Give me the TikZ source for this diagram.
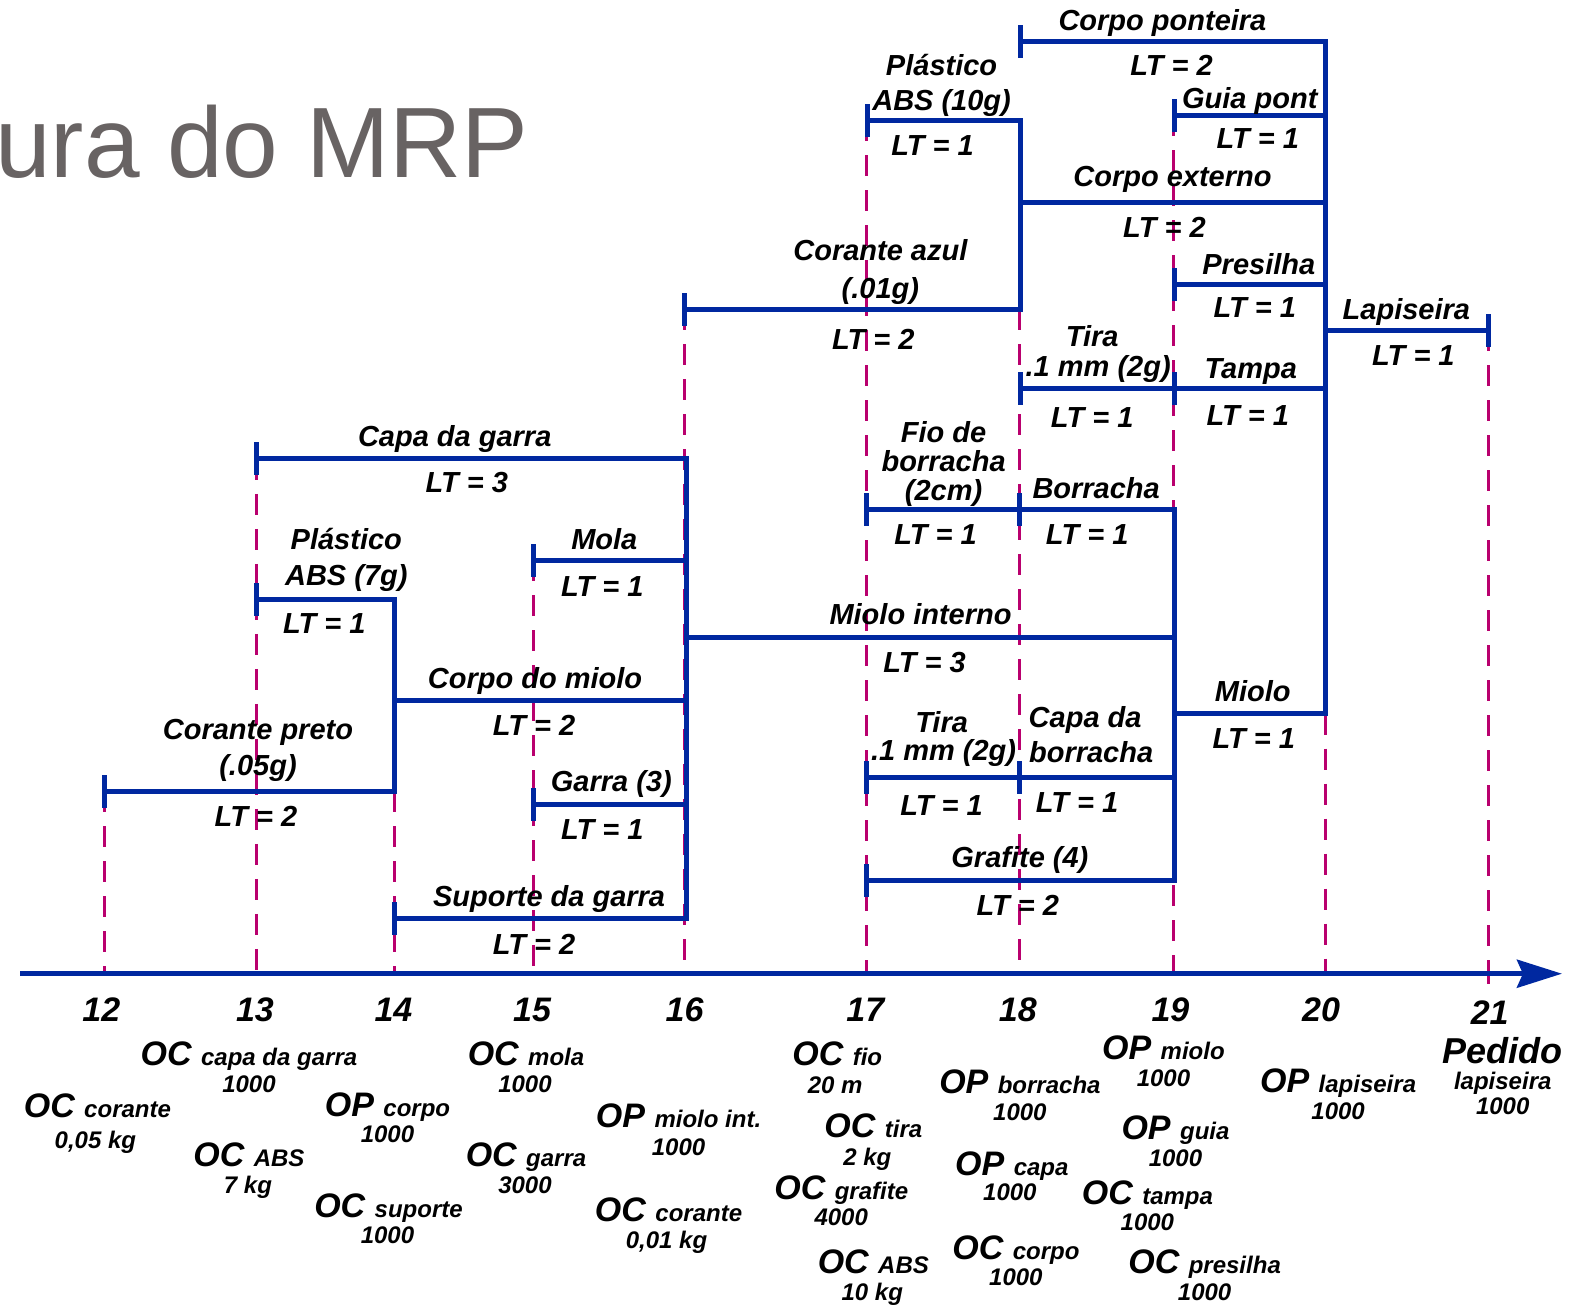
\documentclass[tikz,border=0pt]{standalone}
\usepackage{fontspec}
\setmainfont{Liberation Sans}
\usetikzlibrary{arrows.meta}

\definecolor{barblue}{RGB}{0,40,160}
\definecolor{guide}{RGB}{185,0,110}
\definecolor{titlegray}{RGB}{104,99,99}

% vertical tick at the free end of a bar
\newcommand\bartick[1]{\draw[bar] ([yshift=14pt]#1) -- ([yshift=-14pt]#1);}

\begin{document}
\begin{tikzpicture}[x=1.0038pt,y=-1.0038pt,
  bar/.style={draw=barblue,line width=5pt,line cap=rect},
  guideline/.style={draw=guide,line width=3pt,dash pattern=on 21pt off 14pt},
  lbl/.style={font=\fontsize{29}{30}\selectfont\bfseries\itshape,anchor=base,inner sep=0pt},
  tnum/.style={font=\fontsize{34}{34}\selectfont\bfseries\itshape,anchor=base,inner sep=0pt},
  ord/.style={font=\fontsize{34}{34}\selectfont\bfseries\itshape,anchor=base,inner sep=0pt},
  qty/.style={font=\fontsize{24}{24}\selectfont\bfseries\itshape,anchor=base,inner sep=0pt}]
\newcommand\sm[1]{{\fontsize{24}{24}\selectfont #1}}

\useasboundingbox (0,0) rectangle (1568,1300);

% heading
\node[anchor=base west,inner sep=0pt,text=titlegray,font=\fontsize{100}{100}\selectfont] (title) at (-5,177) {ura do MRP};

% ---------- time axis ----------
\coordinate (axL) at (20,970);
\coordinate (axR) at (1556,970);

% period guide lines
\foreach \n/\x/\y in {12/104/788, 13/256/457, 14/393/788, 15/531/558, 16/682/308,
                      17/863/120, 18/1016/308, 19/1169/115, 20/1320/711, 21/1483/329}{
  \coordinate (g\n-top) at (\x,\y);
  \coordinate (g\n-bot) at (\x,970);
  \draw[guideline] (g\n-top) -- (g\n-bot);
}
\draw[guideline] (g21-bot) -- ++(0,10);

\draw[barblue,line width=5pt,-{Stealth[length=45pt,width=28pt,inset=6pt]}] (axL) -- (axR);

% period numbers
\foreach \n/\x in {12/101, 13/254, 14/392, 15/530, 16/682, 17/862, 18/1014, 19/1166, 20/1316}{
  \node[tnum] (p\n) at (\x,1018) {\n};
}
\node[tnum] (p21) at (1484,1021) {21};

% ---------- bar end points ----------
% left branch
\coordinate (cp-s) at (104,788);  \coordinate (cp-e) at (393,788);
\coordinate (pa7-s) at (256,597); \coordinate (pa7-e) at (393,597);
\coordinate (cm-s) at (393,698);  \coordinate (cm-e) at (684,698);
\coordinate (cg-s) at (256,457);  \coordinate (cg-e) at (684,457);
\coordinate (mo-s) at (531,558);  \coordinate (mo-e) at (684,558);
\coordinate (ga-s) at (531,801);  \coordinate (ga-e) at (684,801);
\coordinate (sg-s) at (393,915);  \coordinate (sg-e) at (684,915);
\coordinate (mi-s) at (684,635);  \coordinate (mi-e) at (1170,635);
% middle branch
\coordinate (fb-s) at (863,508);  \coordinate (fb-e) at (1016,508);
\coordinate (bo-s) at (1016,508); \coordinate (bo-e) at (1170,508);
\coordinate (tl-s) at (863,775);  \coordinate (tl-e) at (1016,775);
\coordinate (cb-s) at (1016,775); \coordinate (cb-e) at (1170,775);
\coordinate (gr-s) at (863,877);  \coordinate (gr-e) at (1170,877);
\coordinate (ml-s) at (1170,711); \coordinate (ml-e) at (1320,711);
% upper branch
\coordinate (ca-s) at (682,308);  \coordinate (ca-e) at (1017,308);
\coordinate (pb-s) at (864,120);  \coordinate (pb-e) at (1017,120);
\coordinate (ce-s) at (1017,202); \coordinate (ce-e) at (1320,202);
\coordinate (cpo-s) at (1017,41); \coordinate (cpo-e) at (1320,41);
\coordinate (gp-s) at (1170,115); \coordinate (gp-e) at (1320,115);
\coordinate (pr-s) at (1170,283); \coordinate (pr-e) at (1320,283);
\coordinate (tu-s) at (1017,387); \coordinate (tu-e) at (1170,387);
\coordinate (ta-s) at (1170,387); \coordinate (ta-e) at (1320,387);
\coordinate (la-s) at (1320,329); \coordinate (la-e) at (1483,329);

% ---------- bars ----------
\foreach \b in {cp,pa7,cm,cg,mo,ga,sg,mi,fb,bo,tl,cb,gr,ml,ca,pb,ce,cpo,gp,pr,tu,ta,la}{
  \draw[bar] (\b-s) -- (\b-e);
}
% joining uprights
\draw[bar] (pa7-e) -- (cp-e);
\draw[bar] (cg-e) -- (sg-e);
\draw[bar] (bo-e) -- (gr-e);
\draw[bar] (pb-e) -- (ca-e);
\draw[bar] (cpo-e) -- (ml-e);
% start ticks
\foreach \b in {cp,pa7,cg,mo,ga,sg,fb,bo,tl,cb,gr,ca,pb,cpo,gp,pr,tu,ta}{
  \bartick{\b-s}
}
\bartick{la-e}

% ---------- item labels ----------
\node[lbl] (cp-n1) at (257,737) {Corante preto};
\node[lbl] (cp-n2) at (257,773) {(.05g)};
\node[lbl] (cp-lt) at (255,823) {LT = 2};
\node[lbl] (pa7-n1) at (345,547) {Plástico};
\node[lbl] (pa7-n2) at (345,583) {ABS (7g)};
\node[lbl] (pa7-lt) at (323,631) {LT = 1};
\node[lbl] (cm-n) at (533,686) {Corpo do miolo};
\node[lbl] (cm-lt) at (532,733) {LT = 2};
\node[lbl] (cg-n) at (453,445) {Capa da garra};
\node[lbl] (cg-lt) at (465,491) {LT = 3};
\node[lbl] (mo-n) at (602,547) {Mola};
\node[lbl] (mo-lt) at (600,594) {LT = 1};
\node[lbl] (ga-n) at (609,788) {Garra (3)};
\node[lbl] (ga-lt) at (600,836) {LT = 1};
\node[lbl] (sg-n) at (547,903) {Suporte da garra};
\node[lbl] (sg-lt) at (532,951) {LT = 2};
\node[lbl] (mi-n) at (917,622) {Miolo interno};
\node[lbl] (mi-lt) at (921,670) {LT = 3};

\node[lbl] (fb-n1) at (940,441) {Fio de};
\node[lbl] (fb-n2) at (940,470) {borracha};
\node[lbl] (fb-n3) at (940,499) {(2cm)};
\node[lbl] (fb-lt) at (932,542) {LT = 1};
\node[lbl] (bo-n) at (1092,497) {Borracha};
\node[lbl] (bo-lt) at (1083,542) {LT = 1};
\node[lbl] (tl-n1) at (938,730) {Tira};
\node[lbl] (tl-n2) at (940,758) {.1 mm (2g)};
\node[lbl] (tl-lt) at (938,812) {LT = 1};
\node[lbl] (cb-n1) at (1081,725) {Capa da};
\node[lbl] (cb-n2) at (1087,760) {borracha};
\node[lbl] (cb-lt) at (1073,809) {LT = 1};
\node[lbl] (gr-n) at (1016,864) {Grafite (4)};
\node[lbl] (gr-lt) at (1014,912) {LT = 2};
\node[lbl] (ml-n) at (1248,699) {Miolo};
\node[lbl] (ml-lt) at (1249,746) {LT = 1};

\node[lbl] (ca-n1) at (877,260) {Corante azul};
\node[lbl] (ca-n2) at (877,297) {(.01g)};
\node[lbl] (ca-lt) at (870,348) {LT = 2};
\node[lbl] (pb-n1) at (938,75) {Plástico};
\node[lbl] (pb-n2) at (938,110) {ABS (10g)};
\node[lbl] (pb-lt) at (929,155) {LT = 1};
\node[lbl] (ce-n) at (1168,186) {Corpo externo};
\node[lbl] (ce-lt) at (1160,237) {LT = 2};
\node[lbl] (cpo-n) at (1158,30) {Corpo ponteira};
\node[lbl] (cpo-lt) at (1167,75) {LT = 2};
\node[lbl] (gp-n) at (1245,108) {Guia pont};
\node[lbl] (gp-lt) at (1253,148) {LT = 1};
\node[lbl] (pr-n) at (1254,273) {Presilha};
\node[lbl] (pr-lt) at (1250,316) {LT = 1};
\node[lbl] (tu-n1) at (1088,345) {Tira};
\node[lbl] (tu-n2) at (1094,375) {.1 mm (2g)};
\node[lbl] (tu-lt) at (1088,426) {LT = 1};
\node[lbl] (ta-n) at (1246,377) {Tampa};
\node[lbl] (ta-lt) at (1243,424) {LT = 1};
\node[lbl] (la-n) at (1401,318) {Lapiseira};
\node[lbl] (la-lt) at (1408,364) {LT = 1};

% ---------- orders released in each period ----------
\node[ord] (o1) at (97,1113) {OC \sm{corante}};      \node[qty] (q1) at (95,1144) {0,05 kg};
\node[ord] (o2) at (248,1061) {OC \sm{capa da garra}}; \node[qty] (q2) at (248,1088) {1000};
\node[ord] (o3) at (248,1162) {OC \sm{ABS}};          \node[qty] (q3) at (247,1189) {7 kg};
\node[ord] (o4) at (386,1112) {OP \sm{corpo}};        \node[qty] (q4) at (386,1138) {1000};
\node[ord] (o5) at (387,1213) {OC \sm{suporte}};      \node[qty] (q5) at (386,1239) {1000};
\node[ord] (o6) at (524,1061) {OC \sm{mola}};         \node[qty] (q6) at (523,1088) {1000};
\node[ord] (o7) at (524,1162) {OC \sm{garra}};        \node[qty] (q7) at (523,1189) {3000};
\node[ord] (o8) at (676,1123) {OP \sm{miolo int.}};   \node[qty] (q8) at (676,1151) {1000};
\node[ord] (o9) at (666,1217) {OC \sm{corante}};      \node[qty] (q9) at (664,1244) {0,01 kg};
\node[ord] (o10) at (834,1061) {OC \sm{fio}};         \node[qty] (q10) at (832,1089) {20 m};
\node[ord] (o11) at (870,1133) {OC \sm{tira}};        \node[qty] (q11) at (864,1161) {2 kg};
\node[ord] (o12) at (838,1195) {OC \sm{grafite}};     \node[qty] (q12) at (838,1221) {4000};
\node[ord] (o13) at (870,1269) {OC \sm{ABS}};         \node[qty] (q13) at (869,1296) {10 kg};
\node[ord] (o14) at (1016,1089) {OP \sm{borracha}};   \node[qty] (q14) at (1016,1116) {1000};
\node[ord] (o15) at (1008,1171) {OP \sm{capa}};       \node[qty] (q15) at (1006,1196) {1000};
\node[ord] (o16) at (1012,1255) {OC \sm{corpo}};      \node[qty] (q16) at (1012,1281) {1000};
\node[ord] (o17) at (1159,1055) {OP \sm{miolo}};      \node[qty] (q17) at (1159,1082) {1000};
\node[ord] (o18) at (1171,1135) {OP \sm{guia}};       \node[qty] (q18) at (1171,1162) {1000};
\node[ord] (o19) at (1143,1200) {OC \sm{tampa}};      \node[qty] (q19) at (1143,1226) {1000};
\node[ord] (o20) at (1200,1269) {OC \sm{presilha}};   \node[qty] (q20) at (1200,1296) {1000};
\node[ord] (o21) at (1333,1088) {OP \sm{lapiseira}};  \node[qty] (q21) at (1333,1115) {1000};
\node[ord,font=\fontsize{36}{36}\selectfont\bfseries\itshape] (o22) at (1497,1059) {Pedido};
\node[qty] (q22a) at (1497,1085) {lapiseira};
\node[qty] (q22b) at (1497,1110) {1000};
\end{tikzpicture}
\end{document}
